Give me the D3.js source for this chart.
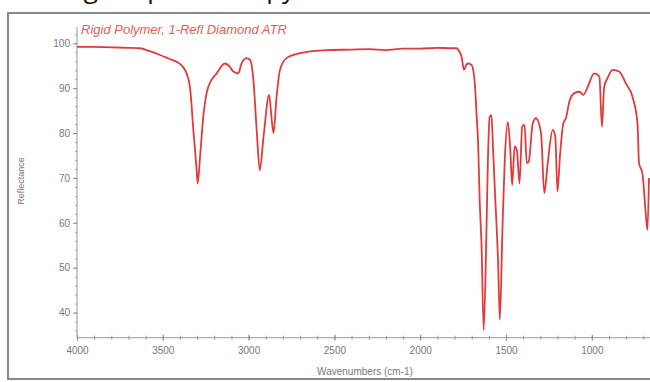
<!DOCTYPE html>
<html>
<head>
<meta charset="utf-8">
<script src="https://cdn.jsdelivr.net/npm/d3@7"></script>
<style>
  body { margin: 0; background: #fff; }
  svg { display: block; font-family: "Liberation Sans", Arial, sans-serif; }
</style>
</head>
<body>
<svg id="chart" width="650" height="382"></svg>
<script>
// spectrum (wavenumber cm-1 -> reflectance)
const wavenumbers = [4000, 3900, 3800, 3700, 3633, 3580, 3516, 3460, 3420, 3371, 3342, 3322, 3303, 3297,
  3283, 3264, 3235, 3186, 3138, 3110, 3089, 3060, 3041, 3012, 2991, 2972, 2953, 2935, 2913, 2880,
  2868, 2855, 2837, 2817, 2779, 2701, 2545, 2400, 2300, 2200, 2100, 2000, 1900, 1817, 1788, 1770,
  1759, 1745, 1730, 1720, 1701, 1682, 1672, 1662, 1653, 1643, 1630, 1614, 1605, 1595, 1585, 1575,
  1565, 1546, 1536, 1521, 1508, 1489, 1475, 1464, 1450, 1437, 1421, 1406, 1392, 1379, 1368, 1344,
  1325, 1296, 1277, 1257, 1228, 1213, 1200, 1186, 1166, 1151, 1131, 1102, 1072, 1049, 1024, 986,
  956, 941, 928, 909, 879, 841, 802, 763, 734, 725, 705, 686, 676, 667];
const reflectance = [99.2, 99.2, 99.1, 99.0, 98.9, 98.3, 97.4, 96.5, 95.9, 94.1, 90.3, 80.7, 71.8, 68.8,
  74.7, 83.7, 90.3, 93.3, 95.5, 94.8, 93.7, 93.3, 95.5, 96.7, 96.3, 91.8, 80.7, 71.7, 79.2, 88.5,
  84.0, 80.0, 88.1, 94.1, 96.7, 97.8, 98.5, 98.6, 98.7, 98.5, 98.8, 98.8, 99.0, 98.9, 98.9, 98.0,
  97.0, 94.1, 95.3, 95.5, 95.2, 91.1, 84.4, 77.0, 64.4, 55.5, 36.1, 58.4, 74.7, 83.7, 84.0, 76.0,
  67.3, 51.0, 38.4, 58.4, 73.3, 82.5, 76.2, 68.4, 77.0, 76.2, 68.8, 81.4, 81.8, 73.3, 73.6, 82.2,
  83.3, 80.0, 66.6, 73.3, 80.7, 79.2, 67.0, 74.7, 82.2, 83.3, 87.0, 88.9, 89.2, 88.5, 90.3, 93.3,
  92.6, 81.4, 90.3, 92.2, 94.1, 93.7, 91.1, 88.1, 82.2, 73.3, 71.0, 62.1, 58.4, 70.0];
const xTicks = [4000, 3500, 3000, 2500, 2000, 1500, 1000];
const yTicks = [40, 50, 60, 70, 80, 90, 100];

const heading = "Using IR spectroscopy";
const sampleName = "Rigid Polymer, 1-Refl Diamond ATR";

const svg = d3.select("#chart");

// heading is cropped off at the top in the picture, only descenders show
svg.append("text")
  .attr("x", 30).attr("y", -2)
  .attr("font-family", "'Open Sans', sans-serif")
  .attr("font-size", 26)
  .attr("fill", "#111")
  .text(heading);

// window frame
svg.append("rect")
  .attr("x", 8).attr("y", 13).attr("width", 660).attr("height", 366)
  .attr("fill", "#fff").attr("stroke", "#888").attr("stroke-width", 2);

const x = d3.scaleLinear().domain([4000, 661]).range([77, 650]);
const y = d3.scaleLinear().domain([34.4, 100]).range([337.7, 43.3]);
const yTop = 27;

svg.append("clipPath").attr("id", "plot")
  .append("rect").attr("x", 77).attr("y", yTop).attr("width", 573).attr("height", 337.7 - yTop);

// x axis
const xMinor = d3.range(4000, 660, -100);
svg.append("g")
  .attr("transform", "translate(0,337.7)")
  .call(d3.axisBottom(x).tickValues(xMinor).tickSize(2).tickFormat(""))
  .call(g => g.select(".domain").remove())
  .call(g => g.selectAll("line").attr("y1", -2).attr("stroke", "#999"));
svg.append("g")
  .attr("transform", "translate(0,337.7)")
  .call(d3.axisBottom(x).tickValues(xTicks).tickSize(3).tickPadding(6).tickFormat(d3.format("d")))
  .call(g => g.select(".domain").attr("stroke", "#999").attr("d", "M77,0H650"))
  .call(g => g.selectAll("line").attr("y1", -3).attr("stroke", "#888"))
  .call(g => g.selectAll("text").attr("fill", "#777").attr("font-size", 10));

// y axis
const yMinor = d3.range(36, 104, 2);
svg.append("g")
  .attr("transform", "translate(77,0)")
  .call(d3.axisLeft(y).tickValues(yMinor).tickSize(2).tickFormat(""))
  .call(g => g.select(".domain").remove())
  .call(g => g.selectAll("line").attr("stroke", "#aaa"));
svg.append("g")
  .attr("transform", "translate(77,0)")
  .call(d3.axisLeft(y).tickValues(yTicks).tickSize(4).tickPadding(3).tickFormat(d3.format("d")))
  .call(g => g.select(".domain").attr("stroke", "#999").attr("d", `M0,${yTop}V337.7`))
  .call(g => g.selectAll("line").attr("stroke", "#888"))
  .call(g => g.selectAll("text").attr("fill", "#777").attr("font-size", 10));

svg.append("text")
  .attr("x", 365).attr("y", 375)
  .attr("text-anchor", "middle")
  .attr("font-size", 10).attr("fill", "#777")
  .text("Wavenumbers (cm-1)");

svg.append("text")
  .attr("transform", "translate(24,181) rotate(-90)")
  .attr("text-anchor", "middle")
  .attr("font-size", 9).attr("fill", "#777")
  .text("Reflectance");

svg.append("text")
  .attr("x", 81).attr("y", 34)
  .attr("font-size", 13).attr("font-style", "italic")
  .attr("fill", "#ec5a5a")
  .text(sampleName);

// spectrum line
const line = d3.line()
  .x((d, i) => x(wavenumbers[i]))
  .y(d => y(d))
  .curve(d3.curveMonotoneX);

svg.append("path")
  .datum(reflectance)
  .attr("clip-path", "url(#plot)")
  .attr("fill", "none")
  .attr("stroke", "#e23a3a")
  .attr("stroke-width", 1.8)
  .attr("stroke-linejoin", "round")
  .attr("d", line);
</script>
</body>
</html>
